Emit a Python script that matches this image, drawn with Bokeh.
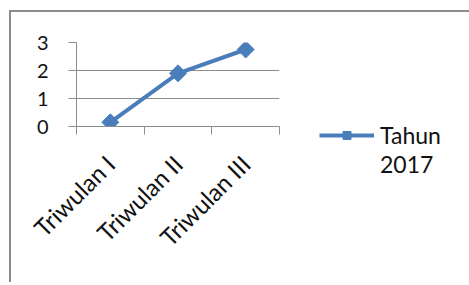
import math
from bokeh.plotting import figure
from bokeh.models import (FactorRange, Range1d, LinearAxis, CategoricalAxis, FixedTicker,
                          Legend, LegendItem, ColumnDataSource, CustomJSTickFormatter)
from bokeh.embed import file_html
from bokeh.resources import INLINE

categories = ["Triwulan I", "Triwulan II", "Triwulan III"]
values = [0.15, 1.9, 2.75]
y_ticks = [0, 1, 2, 3]
legend_lines = ["Tahun", "2017"]

BLUE = "#4a7ebb"
GREY = "#8c8c8c"
TEXT = "#111111"
FONT = "Lato"

p = figure(x_range=FactorRange(*categories, range_padding=0),
           y_range=Range1d(y_ticks[0], y_ticks[-1]),
           width=456, height=270, frame_width=203, frame_height=84,
           min_border_left=65, min_border_top=30, min_border_right=188, min_border_bottom=156,
           x_axis_location=None, output_backend="svg", toolbar_location=None)
p.outline_line_color = None
p.styles = {"border-left": f"2px solid {GREY}", "border-top": f"2px solid {GREY}",
            "margin-left": "9px", "margin-top": "10px"}

# y axis
p.yaxis.ticker = FixedTicker(ticks=y_ticks)
p.yaxis.major_tick_out = 8
p.yaxis.major_tick_in = 0
p.yaxis.minor_tick_line_color = None
p.yaxis.axis_line_color = GREY
p.yaxis.major_tick_line_color = GREY
p.yaxis.major_label_text_font = FONT
p.yaxis.major_label_text_font_size = "20px"
p.yaxis.major_label_text_color = TEXT
p.yaxis.major_label_standoff = 20
p.ygrid.grid_line_color = GREY
p.ygrid.ticker = FixedTicker(ticks=y_ticks)
for g in p.xgrid:
    g.visible = False

# tick marks at category boundaries (synthetic coordinates of the factor range)
tick_axis = LinearAxis(ticker=FixedTicker(ticks=list(range(len(categories) + 1)), minor_ticks=[]),
                       major_tick_out=8, major_tick_in=0,
                       axis_line_color=GREY, major_tick_line_color=GREY,
                       minor_tick_line_color=None,
                       major_label_text_font_size="0px", major_label_standoff=0,
                       major_label_text_alpha=0)
p.add_layout(tick_axis, "below")

cat_axis = CategoricalAxis(axis_line_color=None, major_tick_line_color=None,
                           major_label_orientation=math.pi / 4,
                           major_label_text_font=FONT, major_label_text_font_size="24px",
                           major_label_text_color=TEXT, major_label_standoff=19)
p.add_layout(cat_axis, "below")

src = ColumnDataSource(dict(x=categories, y=values))
line_r = p.line("x", "y", source=src, line_color=BLUE, line_width=4)
mark_r = p.scatter("x", "y", source=src, marker="square", size=12, angle=math.pi / 4,
                   fill_color=BLUE, line_color=BLUE)
blank_r = p.line(x=[], y=[], line_alpha=0)

legend = Legend(items=[LegendItem(label=legend_lines[0], renderers=[line_r, mark_r]),
                       LegendItem(label=legend_lines[1], renderers=[blank_r])],
                location=(40, -52), glyph_width=55, glyph_height=20, label_height=29,
                label_standoff=6, spacing=0, padding=0, margin=0,
                border_line_color=None, background_fill_alpha=0,
                label_text_font=FONT, label_text_font_size="23px", label_text_color=TEXT)
p.add_layout(legend, "right")

open("out.html", "w").write(file_html(p, INLINE))
